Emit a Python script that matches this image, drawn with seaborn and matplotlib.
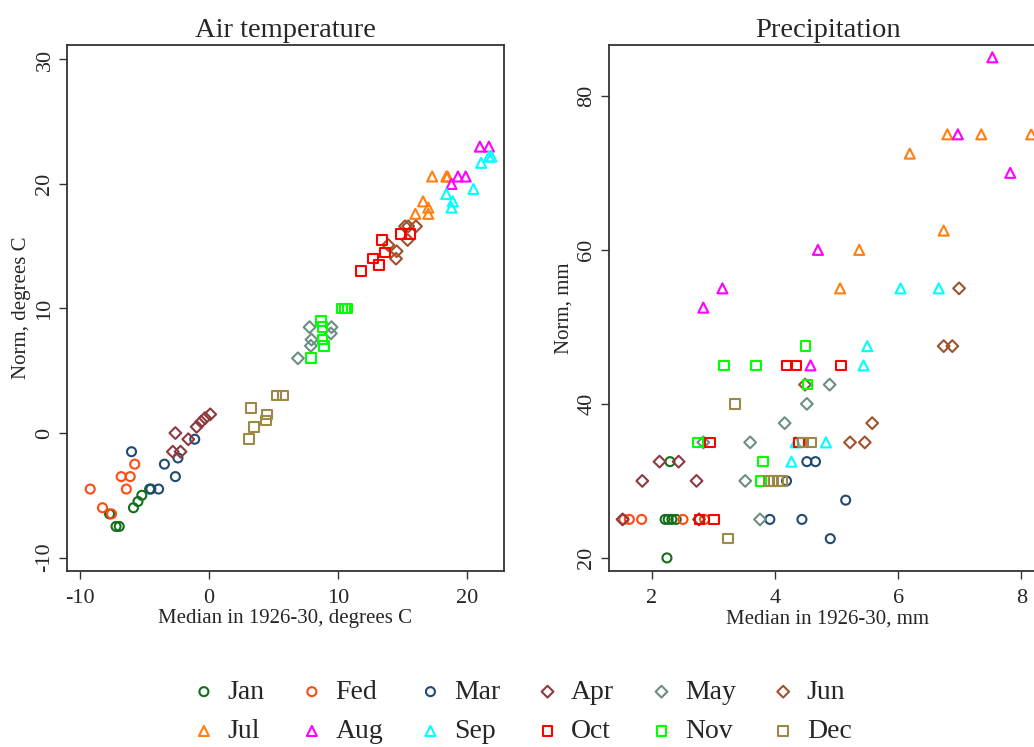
import numpy as np
import pandas as pd
import matplotlib
matplotlib.use("Agg")
import matplotlib.pyplot as plt
import seaborn as sns

months = ["Jan", "Fed", "Mar", "Apr", "May", "Jun",
          "Jul", "Aug", "Sep", "Oct", "Nov", "Dec"]
colors = ["#13701a", "#ff4a12", "#1f4a72", "#8e3a40", "#6e8e84", "#a0522d",
          "#ff7f10", "#ff00ff", "#00ffff", "#ff0000", "#00ff00", "#9c8847"]
markers = ["o", "o", "o", "D", "D", "D", "^", "^", "^", "s", "s", "s"]

# Air temperature: median 1926-30 (x) and norm (y), degrees C
temp_median = [
    [-5.2, -5.5, -5.85, -7.7, -7.2, -6.95, -4.6],
    [-5.75, -6.8, -6.1, -6.4, -9.2, -8.25, -7.55],
    [-1.1, -2.4, -3.45, -2.6, -6.0, -4.5, -3.9],
    [0.1, -0.3, -0.6, -0.95, -2.6, -1.6, -2.8, -2.2],
    [7.8, 9.5, 9.45, 7.95, 7.9, 6.9],
    [15.2, 15.45, 16.05, 15.4, 13.9, 14.55, 14.5],
    [17.3, 18.4, 18.5, 16.6, 17.0, 16.0, 17.0],
    [21.0, 21.7, 19.3, 19.9, 18.8],
    [21.7, 21.9, 21.1, 20.5, 18.4, 18.9, 18.8],
    [13.4, 14.9, 15.6, 13.65, 12.7, 13.2, 11.8],
    [10.3, 10.55, 10.75, 8.7, 8.8, 8.8, 8.9, 7.9],
    [5.25, 5.75, 3.25, 4.5, 4.4, 3.5, 3.1],
]
temp_norm = [
    [-5.0, -5.5, -6.0, -6.5, -7.5, -7.5, -4.5],
    [-2.5, -3.5, -3.5, -4.5, -4.5, -6.0, -6.5],
    [-0.5, -2.0, -2.5, -3.5, -1.5, -4.5, -4.5],
    [1.5, 1.2, 0.9, 0.5, 0.0, -0.5, -1.5, -1.5],
    [8.5, 8.5, 8.0, 7.5, 7.0, 6.0],
    [16.6, 16.6, 16.6, 15.5, 15.1, 14.6, 14.0],
    [20.6, 20.6, 20.6, 18.6, 18.1, 17.6, 17.6],
    [23.0, 23.0, 20.6, 20.6, 20.0],
    [22.2, 22.2, 21.7, 19.6, 19.2, 18.6, 18.1],
    [15.5, 16.0, 16.0, 14.5, 14.0, 13.5, 13.0],
    [10.0, 10.0, 10.0, 9.0, 8.5, 7.5, 7.0, 6.0],
    [3.0, 3.0, 2.0, 1.5, 1.0, 0.5, -0.5],
]

# Precipitation: median 1926-30 (x) and norm (y), mm
prec_median = [
    [2.25, 2.3, 2.22, 2.27, 2.33, 2.4],
    [1.55, 1.64, 1.84, 2.51, 2.86],
    [4.19, 4.52, 4.66, 5.15, 3.92, 4.44, 4.9],
    [1.53, 2.13, 2.44, 1.85, 2.73, 2.77],
    [4.89, 4.52, 4.16, 3.6, 2.84, 3.52, 3.76],
    [6.99, 6.74, 6.88, 5.58, 5.22, 5.46, 4.49],
    [6.8, 7.35, 8.16, 6.19, 6.74, 5.37, 5.06],
    [7.53, 6.97, 7.82, 4.7, 3.15, 2.84, 4.58],
    [6.04, 6.66, 5.5, 5.44, 4.83, 4.34, 4.27],
    [4.2, 4.34, 5.07, 4.39, 2.95, 2.78, 3.01],
    [4.5, 3.18, 3.7, 4.53, 2.75, 3.81, 3.78],
    [3.35, 3.24, 4.46, 4.59, 3.91, 3.98, 4.05, 4.12],
]
prec_norm = [
    [20.0, 32.5, 25.0, 25.0, 25.0, 25.0],
    [25.0, 25.0, 25.0, 25.0, 25.0],
    [30.0, 32.5, 32.5, 27.5, 25.0, 25.0, 22.5],
    [25.0, 32.5, 32.5, 30.0, 30.0, 25.0],
    [42.5, 40.0, 37.5, 35.0, 35.0, 30.0, 25.0],
    [55.0, 47.5, 47.5, 37.5, 35.0, 35.0, 42.5],
    [75.0, 75.0, 75.0, 72.5, 62.5, 60.0, 55.0],
    [85.0, 75.0, 70.0, 60.0, 55.0, 52.5, 45.0],
    [55.0, 55.0, 47.5, 45.0, 35.0, 35.0, 32.5],
    [45.0, 45.0, 45.0, 35.0, 35.0, 25.0, 25.0],
    [47.5, 45.0, 45.0, 42.5, 35.0, 32.5, 30.0],
    [40.0, 22.5, 35.0, 35.0, 30.0, 30.0, 30.0, 30.0],
]

sns.set_theme(style="white")
plt.rcParams["font.family"] = ["Liberation Serif", "DejaVu Serif"]
plt.rcParams["axes.unicode_minus"] = False

fig = plt.figure(figsize=(10.34, 7.47), dpi=100)
W, H = 1034, 747
ax1 = fig.add_axes([67 / W, 1 - 571 / H, 437 / W, 526 / H])
ax2 = fig.add_axes([609 / W, 1 - 571 / H, 437 / W, 526 / H])

sizes = {"o": 42, "D": 36, "^": 52, "s": 48}

for i, m in enumerate(months):
    dt = pd.DataFrame({"x": temp_median[i], "y": temp_norm[i]})
    dp = pd.DataFrame({"x": prec_median[i], "y": prec_norm[i]})
    mk = markers[i]
    for ax, d, lab in ((ax1, dt, m), (ax2, dp, None)):
        sns.scatterplot(data=d, x="x", y="y", ax=ax, marker=mk, s=sizes[mk],
                        facecolor="none", edgecolor=colors[i], linewidth=1.5,
                        label=lab, legend=False, zorder=3)

ax1.set_xlim(-11.0, 22.87)
ax1.set_ylim(-11.08, 31.16)
ax1.set_xticks([-10, 0, 10, 20])
ax1.set_yticks([-10, 0, 10, 20, 30])
ax2.set_xlim(1.31, 8.40)
ax2.set_ylim(18.3, 86.6)
ax2.set_xticks([2, 4, 6, 8])
ax2.set_yticks([20, 40, 60, 80])

for ax, title, xl, yl in ((ax1, "Air temperature", "Median in 1926-30, degrees C", "Norm, degrees C"),
                          (ax2, "Precipitation", "Median in 1926-30, mm", "Norm, mm")):
    ax.set_title(title, fontsize=20.5, pad=6)
    ax.set_xlabel(xl, fontsize=15, labelpad=1)
    ax.set_ylabel(yl, fontsize=15, labelpad=3)
    for sp in ax.spines.values():
        sp.set_visible(True)
        sp.set_color("#333333")
        sp.set_linewidth(1.3)
    ax.tick_params(axis="both", which="major", direction="out", length=6, width=1,
                   color="#333333", labelsize=16, bottom=True, left=True)
    ax.tick_params(axis="x", pad=7)
    ax.tick_params(axis="y", pad=3)
    for lbl in ax.get_yticklabels():
        lbl.set_rotation(90)
        lbl.set_va("center")

# legend: two rows (Jan..Jun / Jul..Dec), matplotlib fills column-first
coll = ax1.collections[:12]
order = [k for pair in zip(range(6), range(6, 12)) for k in pair]
handles = [coll[k] for k in order]
labels = [months[k] for k in order]
leg = fig.legend(handles=handles, labels=labels, loc="center", ncol=6,
                 bbox_to_anchor=(0.505, 0.047), frameon=False, fontsize=20,
                 markerscale=1.0, handlelength=0.8, handletextpad=0.45,
                 columnspacing=1.3, labelspacing=0.5)

fig.savefig("out.png", dpi=100)
